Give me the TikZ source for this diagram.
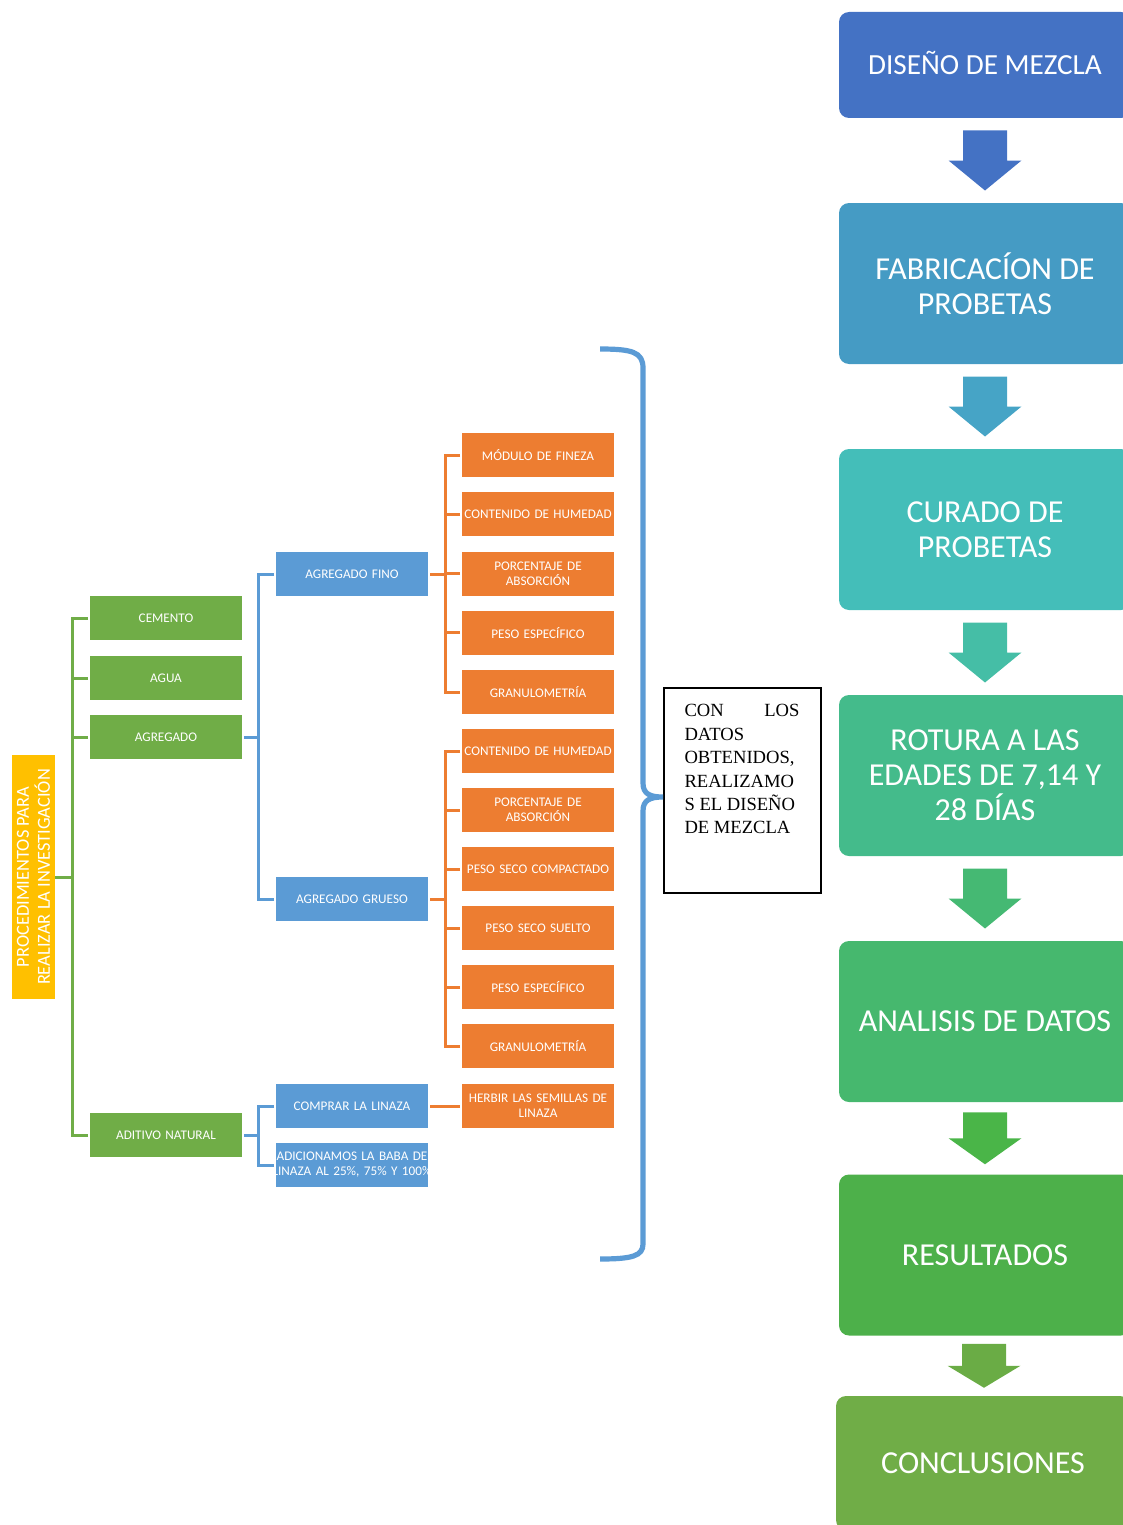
\documentclass[tikz,border=0pt]{standalone}
\usepackage{fontspec}
\setmainfont{Carlito}
\newfontfamily\notefont{Liberation Serif}
\usetikzlibrary{calc}

\definecolor{tgreen}{HTML}{70AD47}
\definecolor{tblue}{HTML}{5B9BD5}
\definecolor{torange}{HTML}{ED7D31}
\definecolor{tyellow}{HTML}{FFC000}
\definecolor{stA}{HTML}{4472C4}
\definecolor{stB}{HTML}{459BC4}
\definecolor{stC}{HTML}{44BEB9}
\definecolor{stD}{HTML}{44BB8B}
\definecolor{stE}{HTML}{46B86E}
\definecolor{stF}{HTML}{4DB04A}
\definecolor{stG}{HTML}{70AD47}
\definecolor{arA}{HTML}{4472C4}
\definecolor{arB}{HTML}{46A4C6}
\definecolor{arC}{HTML}{45BEA6}
\definecolor{arD}{HTML}{45B973}
\definecolor{arE}{HTML}{4AB548}
\definecolor{arF}{HTML}{6AAC45}

\tikzset{
  leaf/.style={text=white, minimum width=76pt, minimum height=22pt, inner sep=1pt,
    text width=74pt, align=center, outer sep=1pt,
    font=\fontsize{6.6}{7.5}\selectfont},
  greenbox/.style={leaf, fill=tgreen},
  bluebox/.style={leaf, fill=tblue},
  orangebox/.style={leaf, fill=torange},
  rootbox/.style={fill=tyellow, text=white, rotate=90, minimum width=122pt,
    minimum height=21.5pt, inner sep=0pt, align=center,
    font=\fontsize{9.2}{10.5}\selectfont},
  gline/.style={draw=tgreen, line width=1.5pt},
  bline/.style={draw=tblue, line width=1.5pt},
  oline/.style={draw=torange, line width=1.5pt},
  brace/.style={draw=tblue, line width=2.6pt},
  notebox/.style={draw=black, line width=1pt, inner xsep=10.5pt, inner ysep=7.25pt,
    font=\notefont\fontsize{9.3}{11.7}\selectfont},
  stage/.style={rounded corners=5pt, text=white, minimum width=146pt,
    minimum height=80.5pt, align=center, inner sep=0pt,
    font=\fontsize{16}{17.5}\selectfont},
}

\begin{document}
\begin{tikzpicture}[x=0.5pt, y=-0.5pt]
  \useasboundingbox (0,0) rectangle (1123,1525);

  % left tree
  \node[rootbox] (root) at (33.5,877) {PROCEDIMIENTOS PARA\\REALIZAR LA INVESTIGACIÓN};

  \node[greenbox] (cem) at (166,618) {CEMENTO};
  \node[greenbox] (agua) at (166,678) {AGUA};
  \node[greenbox] (agr) at (166,737) {AGREGADO};
  \node[greenbox] (adit) at (166,1135) {ADITIVO NATURAL};

  \node[bluebox] (fino) at (352,574) {AGREGADO FINO};
  \node[bluebox] (grueso) at (352,899) {AGREGADO GRUESO};
  \node[bluebox] (compra) at (352,1106) {COMPRAR LA LINAZA};
  \node[bluebox] (adic) at (352,1165) {\makebox[74pt]{ADICIONAMOS LA BABA DE}\\
    \makebox[74pt]{LINAZA AL 25\%, 75\% Y 100\%}};

  \foreach \txt [count=\i] in {MÓDULO DE FINEZA, CONTENIDO DE HUMEDAD,
      PORCENTAJE DE\\ABSORCIÓN, PESO ESPECÍFICO, GRANULOMETRÍA}
    \node[orangebox] (f\i) at (538,{455+(\i-1)*59.25}) {\txt};
  \foreach \txt [count=\i] in {CONTENIDO DE HUMEDAD, PORCENTAJE DE\\ABSORCIÓN,
      PESO SECO COMPACTADO, PESO SECO SUELTO, PESO ESPECÍFICO, GRANULOMETRÍA}
    \node[orangebox] (g\i) at (538,{751+(\i-1)*59}) {\txt};
  \node[orangebox] (herbir) at (538,1106) {HERBIR LAS SEMILLAS DE\\LINAZA};

  \coordinate (rootbus) at (72,877);
  \coordinate (agrbus) at (258,737);
  \coordinate (aditbus) at (258,1135);
  \coordinate (finobus) at (445,574);
  \coordinate (gruesobus) at (445,899);

  \draw[gline] (root.south) -- (rootbus);
  \foreach \n in {cem,agua,agr,adit}
    \draw[gline] (\n.west) -| (rootbus);

  \draw[bline] (agr.east) -- (agrbus);
  \foreach \n in {fino,grueso}
    \draw[bline] (\n.west) -| (agrbus);
  \draw[bline] (adit.east) -- (aditbus);
  \foreach \n in {compra,adic}
    \draw[bline] (\n.west) -| (aditbus);

  \draw[oline] (fino.east) -- (finobus);
  \foreach \i in {1,...,5}
    \draw[oline] (f\i.west) -| (finobus);
  \draw[oline] (grueso.east) -- (gruesobus);
  \foreach \i in {1,...,6}
    \draw[oline] (g\i.west) -| (gruesobus);
  \draw[oline] (compra.east) -- (herbir.west);

  % brace and note
  \node[notebox] (note) at (742,790.5) {\begin{minipage}[t][88pt][t]{57.5pt}%
    \vspace*{1pt}CON\hfill LOS\\DATOS\\OBTENIDOS,\\REALIZAMO\\S EL DISEÑO\\DE MEZCLA\end{minipage}};
  \coordinate (cusp) at (663,797);
  \draw[brace] (600,349) .. controls (632,349) and (643,352) .. (643,368)
    -- (643,783) .. controls (643,794) and (650,797) .. (cusp)
    .. controls (650,797) and (643,800) .. (643,811)
    -- (643,1244) .. controls (643,1256) and (632,1259) .. (600,1259);

  % process column
  \node[stage, fill=stA, minimum height=53pt, font=\fontsize{14.6}{17.5}\selectfont,
    text depth=2pt] (d1) at (985,65) {DISEÑO DE MEZCLA};
  \node[stage, fill=stB] (d2) at (985,283.5) {FABRICACÍON DE\\PROBETAS};
  \node[stage, fill=stC] (d3) at (985,529.5) {CURADO DE\\PROBETAS};
  \node[stage, fill=stD] (d4) at (985,775.5) {ROTURA A LAS\\EDADES DE 7,14 Y\\28 DÍAS};
  \node[stage, fill=stE] (d5) at (985,1021.5) {ANALISIS DE DATOS};
  \node[stage, fill=stF] (d6) at (985,1255) {RESULTADOS};
  \node[stage, fill=stG, minimum width=147pt, minimum height=67pt] (d7) at (983,1463) {CONCLUSIONES};

  \foreach \a/\b/\c/\l in {d1/d2/arA/60, d2/d3/arB/60, d3/d4/arC/60,
      d4/d5/arD/60, d5/d6/arE/52, d6/d7/arF/44} {
    \coordinate (mid) at ($(\a.south)!0.5!(\b.north)$);
    \fill[\c] ($(mid)+(-22,{-\l/2})$) -- ++(44,0) -- ++(0,{\l/2}) -- ++(14.5,0)
      -- ++(-36.5,{\l/2}) -- ++(-36.5,{-\l/2}) -- ++(14.5,0) -- cycle;
  }
\end{tikzpicture}
\end{document}
